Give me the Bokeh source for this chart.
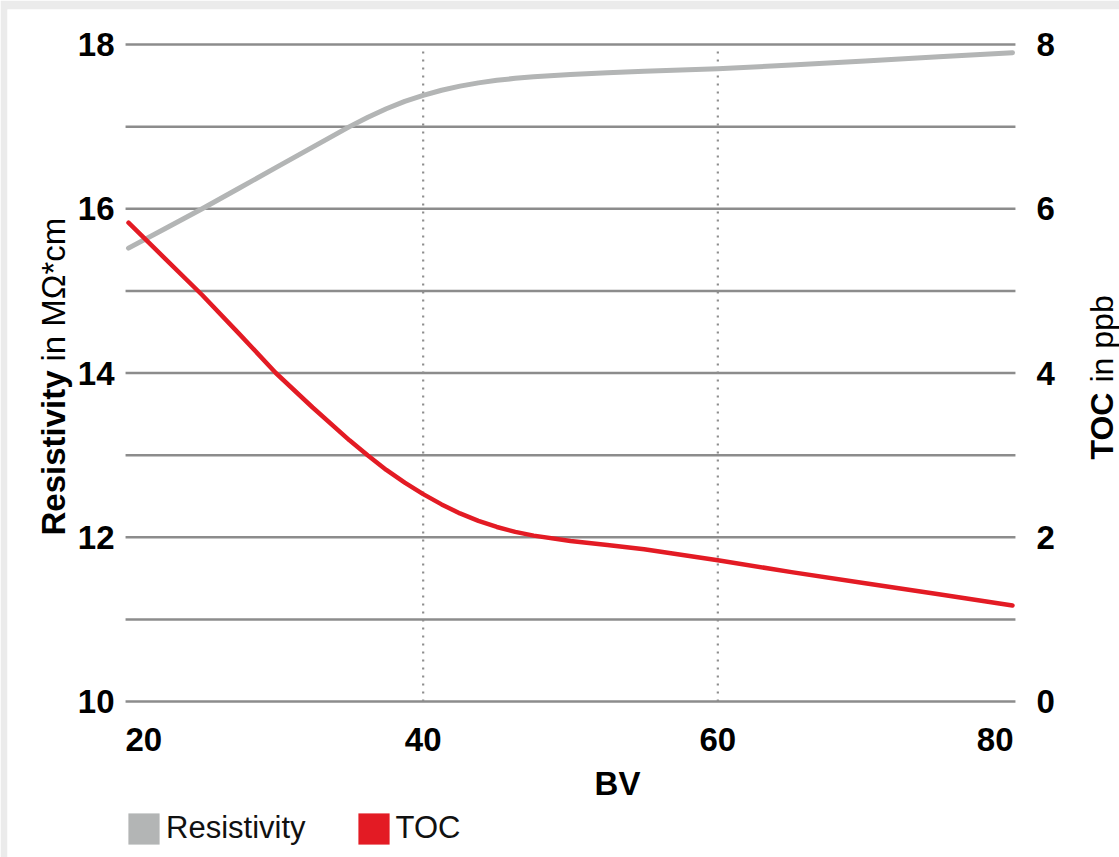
from bokeh.plotting import figure
from bokeh.models import Range1d, Label, Legend, LegendItem
from bokeh.core.properties import value
from bokeh.embed import file_html
from bokeh.resources import INLINE
import math

# ---- data ----
bv = [20, 22.5, 25, 27.5, 30, 32.5, 35, 36.25, 37.5, 38.75, 40, 41.25, 42.5, 43.75,
      45, 46.25, 47.5, 50, 52.5, 55, 60, 65, 70, 75, 80]
resistivity = [15.52, 15.76, 16.0, 16.25, 16.5, 16.75, 17.0, 17.115, 17.218, 17.308, 17.38,
               17.443, 17.493, 17.533, 17.564, 17.588, 17.607, 17.635, 17.657, 17.675,
               17.705, 17.75, 17.80, 17.85, 17.90]
toc = [5.83, 5.39, 4.95, 4.48, 4.0, 3.58, 3.18, 2.995, 2.82, 2.665, 2.525, 2.40, 2.29,
       2.20, 2.125, 2.065, 2.02, 1.955, 1.905, 1.855, 1.72, 1.575, 1.44, 1.305, 1.17]

x_ticks = [20, 40, 60, 80]
x_tick_labels = ["20", "40", "60", "80"]
left_ticks = [10, 12, 14, 16, 18]
left_tick_labels = ["10", "12", "14", "16", "18"]
right_ticks = [0, 2, 4, 6, 8]
right_tick_labels = ["0", "2", "4", "6", "8"]
grid_lines = [10, 11, 12, 13, 14, 15, 16, 17, 18]
v_lines = [40, 60]

GRAY = "#b3b5b5"
RED = "#e31b24"
FONT = "Liberation Sans"

# ---- geometry of the frame (pixels of the reference layout) ----
W, H = 1119, 857
FL, FT = 7, 9                       # light-grey margin left / top
PXX = (1012 - 128) / 60.0           # px per BV unit
PXY = (701 - 44) / 8.0              # px per resistivity unit
x0 = 20 - (128 - FL) / PXX
x1 = 20 + (W - 128) / PXX
y0 = 10 - (H - 701) / PXY
y1 = 18 + (44 - FT) / PXY
GX0, GX1 = 19.8, 80.2               # extent of the horizontal grid lines

p = figure(width=W, height=H, output_backend="svg", toolbar_location=None,
           x_range=Range1d(x0, x1), y_range=Range1d(y0, y1),
           x_axis_location=None, y_axis_location=None,
           min_border_left=FL, min_border_top=FT, min_border_right=0, min_border_bottom=0)
p.outline_line_color = None
p.background_fill_color = "white"
p.border_fill_color = "#ebebeb"
p.xgrid.visible = False
p.ygrid.visible = False
p.extra_y_ranges = {"toc": Range1d(y0 - 10, y1 - 10)}

# horizontal grid lines
p.segment(x0=[GX0] * len(grid_lines), x1=[GX1] * len(grid_lines),
          y0=grid_lines, y1=grid_lines, line_color="#8c8c8c", line_width=2.5)
# dotted verticals
p.segment(x0=v_lines, x1=v_lines, y0=[10] * len(v_lines), y1=[17.92] * len(v_lines),
          line_color="#8e8e8e", line_width=2.2, line_dash="2 6")

# curves
p.line(bv, resistivity, line_color=GRAY, line_width=5, line_cap="round", line_join="round")
p.line(bv, toc, line_color=RED, line_width=4.5, line_cap="round", line_join="round",
       y_range_name="toc")

GTICK = dict(text_font=value(FONT), text_font_style="bold", text_font_size="33px",
             text_color="black")
LTICK = dict(text_font=FONT, text_font_style="bold", text_font_size="33px", text_color="black")

# left / right tick labels
p.text(x=[GX0] * len(left_ticks), y=left_ticks, text=left_tick_labels, x_offset=-11,
       text_align="right", text_baseline="middle", **GTICK)
p.text(x=[GX1] * len(right_ticks), y=right_ticks, text=right_tick_labels, x_offset=21,
       text_align="left", text_baseline="middle", y_range_name="toc", **GTICK)

def sx(px):
    return px - FL

def sy(py):
    return H - py

# bottom tick labels
aligns = ["left", "center", "center", "right"]
offs = [-3, 0, 0, 1]
for xv, lab, al, off in zip(x_ticks, x_tick_labels, aligns, offs):
    p.add_layout(Label(x=xv, y=sy(739), x_units="data", y_units="screen", text=lab,
                       text_align=al, text_baseline="alphabetic", x_offset=off, **LTICK))

# x axis title
p.add_layout(Label(x=sx(617), y=sy(783), x_units="screen", y_units="screen", text="BV",
                   text_align="center", text_baseline="alphabetic", **LTICK))

# left axis title (bold + regular)
p.add_layout(Label(x=sx(53), y=sy(535), x_units="screen", y_units="screen", text="Resistivity",
                   angle=math.pi / 2, text_align="left", text_baseline="alphabetic",
                   text_font=FONT, text_font_style="bold", text_font_size="33px",
                   text_color="black"))
p.add_layout(Label(x=sx(53), y=sy(361), x_units="screen", y_units="screen", text="in MΩ*cm",
                   angle=math.pi / 2, text_align="left", text_baseline="alphabetic",
                   text_font=FONT, text_font_style="normal", text_font_size="33px",
                   text_color="black"))

# right axis title (bold + regular)
p.add_layout(Label(x=sx(1101), y=sy(459), x_units="screen", y_units="screen", text="TOC",
                   angle=math.pi / 2, text_align="left", text_baseline="alphabetic",
                   text_font=FONT, text_font_style="bold", text_font_size="32px",
                   text_color="black"))
p.add_layout(Label(x=sx(1101), y=sy(382), x_units="screen", y_units="screen", text="in ppb",
                   angle=math.pi / 2, text_align="left", text_baseline="alphabetic",
                   text_font=FONT, text_font_style="normal", text_font_size="32px",
                   text_color="black"))

# legend with square swatches (renderers carry no visible data)
nan = float("nan")
r_res = p.quad(left=[nan], right=[nan], top=[nan], bottom=[nan], fill_color=GRAY, line_color=None)
r_toc = p.quad(left=[nan], right=[nan], top=[nan], bottom=[nan], fill_color=RED, line_color=None)
legend = Legend(items=[LegendItem(label="Resistivity", renderers=[r_res]),
                       LegendItem(label="TOC", renderers=[r_toc])],
                location=(sx(124), sy(847.5)), orientation="horizontal",
                glyph_width=39, glyph_height=39, label_height=39,
                label_standoff=3, spacing=48, padding=0, margin=0,
                border_line_color=None, background_fill_alpha=0,
                label_text_font=FONT, label_text_font_size="31px",
                label_text_color="#111111")
p.add_layout(legend, "center")

open("out.html", "w").write(file_html(p, INLINE))
